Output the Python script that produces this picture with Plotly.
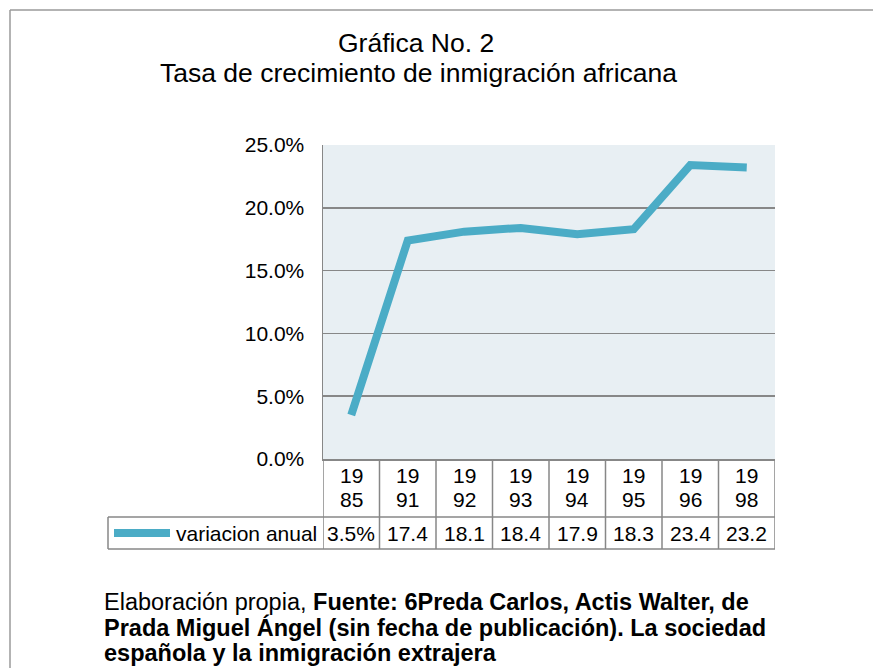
import plotly.graph_objects as go

# ---- data ----
years = ["1985", "1991", "1992", "1993", "1994", "1995", "1996", "1998"]
variacion_anual = [0.035, 0.174, 0.181, 0.184, 0.179, 0.183, 0.234, 0.232]
series_name = "variacion anual"
title_line1 = "Gráfica No. 2"
title_line2 = "Tasa de crecimiento de inmigración africana"
footer_lines = [
    "Elaboración propia, <b>Fuente: 6Preda Carlos, Actis Walter, de</b>",
    "<b>Prada Miguel Ángel (sin fecha de publicación). La sociedad</b>",
    "<b>española y la inmigración extrajera</b>",
]
y_ticks = [0, 0.05, 0.10, 0.15, 0.20, 0.25]

# ---- layout geometry (pixels) ----
W, H = 873, 668
PL, PR, PT, PB = 323, 775, 145, 459
ROW1_B = 517
ROW2_B = 549
TABLE_L = 108
LINE_COLOR = "#4BACC6"
GRID = "#878787"
FONT = "Liberation Sans, Arial, sans-serif"


def px(x):
    return x / W


def py(y):
    return 1 - y / H


fig = go.Figure()
fig.add_trace(go.Scatter(
    x=years, y=variacion_anual, mode="lines", name=series_name,
    line=dict(color=LINE_COLOR, width=8), showlegend=False, hoverinfo="skip",
))

shapes = []
annotations = []

# outer frame
shapes.append(dict(type="line", xref="paper", yref="paper", x0=px(10), x1=px(873),
                   y0=py(10), y1=py(10), line=dict(color="#9a9a9a", width=1.5)))
shapes.append(dict(type="line", xref="paper", yref="paper", x0=px(10), x1=px(10),
                   y0=py(10), y1=py(668), line=dict(color="#9a9a9a", width=1.5)))

# data table
n = len(years)
for i in range(n + 1):
    shapes.append(dict(type="line", xref="x", yref="paper", x0=i - 0.5, x1=i - 0.5,
                       y0=py(PB), y1=py(ROW2_B), line=dict(color=GRID, width=1.5)))
shapes.append(dict(type="line", xref="paper", yref="paper", x0=px(TABLE_L), x1=px(PR),
                   y0=py(ROW1_B), y1=py(ROW1_B), line=dict(color=GRID, width=1.5)))
shapes.append(dict(type="line", xref="paper", yref="paper", x0=px(TABLE_L), x1=px(PR),
                   y0=py(ROW2_B), y1=py(ROW2_B), line=dict(color=GRID, width=1.5)))
shapes.append(dict(type="line", xref="paper", yref="paper", x0=px(TABLE_L), x1=px(TABLE_L),
                   y0=py(ROW1_B), y1=py(ROW2_B), line=dict(color=GRID, width=1.5)))
# legend key
shapes.append(dict(type="line", xref="paper", yref="paper", x0=px(114), x1=px(170),
                   y0=py(533), y1=py(533), line=dict(color=LINE_COLOR, width=8)))
annotations.append(dict(xref="paper", yref="paper", x=px(319), y=py(533), text=series_name,
                        showarrow=False, xanchor="right", yanchor="middle",
                        font=dict(size=21, color="#000", family=FONT)))

for i, (yr, v) in enumerate(zip(years, variacion_anual)):
    annotations.append(dict(xref="x", yref="paper", x=i, y=py(475), text=yr[:2],
                            showarrow=False, yanchor="middle",
                            font=dict(size=21, color="#000", family=FONT)))
    annotations.append(dict(xref="x", yref="paper", x=i, y=py(499), text=yr[2:],
                            showarrow=False, yanchor="middle",
                            font=dict(size=21, color="#000", family=FONT)))
    lab = f"{v*100:.1f}%" if i == 0 else f"{v*100:.1f}"
    annotations.append(dict(xref="x", yref="paper", x=i, y=py(533), text=lab,
                            showarrow=False, yanchor="middle",
                            font=dict(size=21, color="#000", family=FONT)))

# titles
annotations.append(dict(xref="paper", yref="paper", x=px(416), y=py(43), text=title_line1,
                        showarrow=False, yanchor="middle",
                        font=dict(size=26.5, color="#000", family=FONT)))
annotations.append(dict(xref="paper", yref="paper", x=px(418), y=py(73), text=title_line2,
                        showarrow=False, yanchor="middle",
                        font=dict(size=26.5, color="#000", family=FONT)))

# footer
for k, t in enumerate(footer_lines):
    annotations.append(dict(xref="paper", yref="paper", x=px(102), y=py(602 + 25.6 * k), text=t,
                            showarrow=False, xanchor="left", yanchor="middle",
                            font=dict(size=23.5, color="#000", family=FONT)))

fig.update_layout(
    width=W, height=H,
    margin=dict(l=0, r=0, t=0, b=0, pad=0, autoexpand=False),
    paper_bgcolor="white",
    plot_bgcolor="#E8EFF3",
    shapes=shapes,
    annotations=annotations,
    xaxis=dict(
        domain=[px(PL), px(PR)], type="category", range=[-0.5, n - 0.5],
        showticklabels=False, showgrid=False, zeroline=False, automargin=False,
        showline=True, linecolor=GRID, linewidth=1.5, ticks="",
    ),
    yaxis=dict(
        domain=[py(PB), py(PT)], range=[0, 0.25], tickvals=y_ticks, tickformat=".1%",
        showgrid=True, gridcolor=GRID, gridwidth=1.5, zeroline=False, automargin=False,
        showline=True, linecolor=GRID, linewidth=1.5, ticks="",
        ticklabelstandoff=13,
        tickfont=dict(size=21, color="#000", family=FONT),
    ),
)

fig.write_html(
    "out.html",
    post_script="document.body.style.margin='0';document.body.style.overflow='hidden';",
    config={"displayModeBar": False, "staticPlot": True},
)
